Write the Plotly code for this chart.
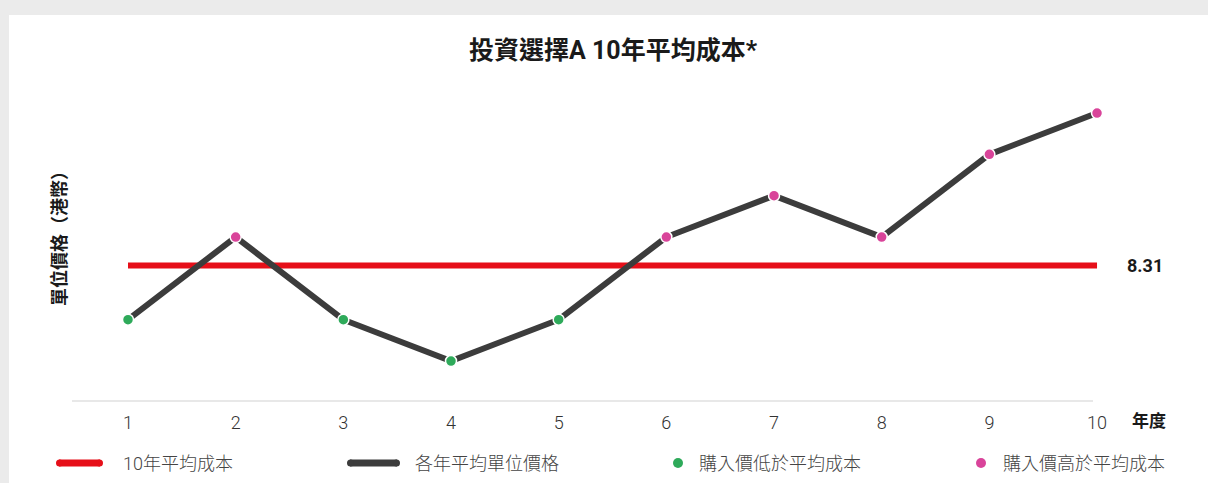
import plotly.graph_objects as go

# ---- data ----
years = [1, 2, 3, 4, 5, 6, 7, 8, 9, 10]
prices = [7, 9, 7, 6, 7, 9, 10, 9, 11, 12]
tick_labels = ["1", "2", "3", "4", "5", "6", "7", "8", "9", "10"]
avg_cost = len(prices) / sum(1.0 / p for p in prices)  # 8.31

title_text = "投資選擇A 10年平均成本*"
y_title = "單位價格（港幣）"
x_title = "年度"
legend_names = ["10年平均成本", "各年平均單位價格", "購入價低於平均成本", "購入價高於平均成本"]

RED = "#e60f19"
DARK = "#3c3c3c"
GREEN = "#2eaa5a"
PINK = "#d9449a"
BG = "#ebebeb"

FONT = "Roboto, 'Noto Sans CJK TC', sans-serif"

W, H = 1208, 483
L, R, T, B = 72, 100, 80, 82
PW, PH = W - L - R, H - T - B


def px2paper_x(px):
    return (px - L) / PW


def px2paper_y(py):
    return (H - B - py) / PH


low_x = [x for x, p in zip(years, prices) if p < avg_cost]
low_y = [p for p in prices if p < avg_cost]
high_x = [x for x, p in zip(years, prices) if p >= avg_cost]
high_y = [p for p in prices if p >= avg_cost]

fig = go.Figure()
fig.add_trace(go.Scatter(x=years, y=[avg_cost] * len(years), mode="lines",
                         line=dict(color=RED, width=6), name=legend_names[0],
                         hoverinfo="skip"))
fig.add_trace(go.Scatter(x=years, y=prices, mode="lines",
                         line=dict(color=DARK, width=6), name=legend_names[1]))
fig.add_trace(go.Scatter(x=low_x, y=low_y, mode="markers",
                         marker=dict(color=GREEN, size=11, line=dict(color="white", width=1.5)),
                         name=legend_names[2]))
fig.add_trace(go.Scatter(x=high_x, y=high_y, mode="markers",
                         marker=dict(color=PINK, size=11, line=dict(color="white", width=1.5)),
                         name=legend_names[3]))

shapes = []
# white card
shapes.append(dict(type="rect", xref="paper", yref="paper",
                   x0=px2paper_x(9), x1=px2paper_x(1215), y0=px2paper_y(490), y1=px2paper_y(15),
                   fillcolor="white", line=dict(width=0), layer="below"))
# baseline
shapes.append(dict(type="line", xref="paper", yref="paper",
                   x0=0, x1=px2paper_x(1093), y0=0, y1=0,
                   line=dict(color="#e8e8e8", width=2), layer="below"))

annotations = []
annotations.append(dict(xref="x", yref="y", x=years[-1], y=avg_cost, text=f"{avg_cost:.2f}",
                        showarrow=False, xanchor="left", xshift=28,
                        font=dict(family=FONT, size=18, color="#1a1a1a", weight="bold")))
annotations.append(dict(xref="paper", yref="paper", x=px2paper_x(1130), y=px2paper_y(421),
                        text=x_title, showarrow=False, xanchor="left", yanchor="middle",
                        font=dict(family=FONT, size=17, color="#1a1a1a", weight="bold")))
annotations.append(dict(xref="paper", yref="paper", x=px2paper_x(59), y=px2paper_y(234),
                        text=y_title, showarrow=False, textangle=-90, xanchor="center", yanchor="middle",
                        font=dict(family=FONT, size=18, color="#1a1a1a", weight="bold")))

# custom legend
leg_y = 463
legend_items = [
    ("line", RED, 56, 103, 121),
    ("line", DARK, 347, 400, 413),
    ("dot", GREEN, 678, 678, 697),
    ("dot", PINK, 981, 981, 1001),
]
for (kind, col, a, b, tx), name in zip(legend_items, legend_names):
    if kind == "line":
        shapes.append(dict(type="line", xref="paper", yref="paper",
                           x0=px2paper_x(a + 3), x1=px2paper_x(b - 3),
                           y0=px2paper_y(leg_y), y1=px2paper_y(leg_y),
                           line=dict(color=col, width=7)))
        shapes.append(dict(type="circle", xref="paper", yref="paper",
                           x0=px2paper_x(a), x1=px2paper_x(a + 7),
                           y0=px2paper_y(leg_y + 3.5), y1=px2paper_y(leg_y - 3.5),
                           fillcolor=col, line=dict(width=0)))
        shapes.append(dict(type="circle", xref="paper", yref="paper",
                           x0=px2paper_x(b - 7), x1=px2paper_x(b),
                           y0=px2paper_y(leg_y + 3.5), y1=px2paper_y(leg_y - 3.5),
                           fillcolor=col, line=dict(width=0)))
    else:
        shapes.append(dict(type="circle", xref="paper", yref="paper",
                           x0=px2paper_x(a - 5), x1=px2paper_x(a + 5),
                           y0=px2paper_y(leg_y + 5), y1=px2paper_y(leg_y - 5),
                           fillcolor=col, line=dict(width=0)))
    annotations.append(dict(xref="paper", yref="paper", x=px2paper_x(tx), y=px2paper_y(leg_y),
                            text=name, showarrow=False, xanchor="left", yanchor="middle",
                            font=dict(family=FONT, size=18, color="#444444", weight=300)))

fig.update_layout(
    width=W, height=H,
    margin=dict(l=L, r=R, t=T, b=B),
    paper_bgcolor=BG, plot_bgcolor="white",
    showlegend=False,
    title=dict(text=title_text, x=613 / W, xanchor="center", y=1 - 50 / H, yanchor="middle",
               font=dict(family=FONT, size=25, color="#1a1a1a", weight="bold")),
    xaxis=dict(range=[1 - 56 / 107.67, 1 - 56 / 107.67 + PW / 107.67],
               tickmode="array", tickvals=years, ticktext=tick_labels,
               showgrid=False, zeroline=False, showline=False, ticks="",
               ticklabelstandoff=9,
               tickfont=dict(family=FONT, size=18, color="#333333", weight=300)),
    yaxis=dict(range=[5.033, 5.033 + PH / 41.333], showgrid=False, zeroline=False,
               showline=False, showticklabels=False, ticks=""),
    shapes=shapes,
    annotations=annotations,
    font=dict(family=FONT),
)

fig.write_html("out.html")
